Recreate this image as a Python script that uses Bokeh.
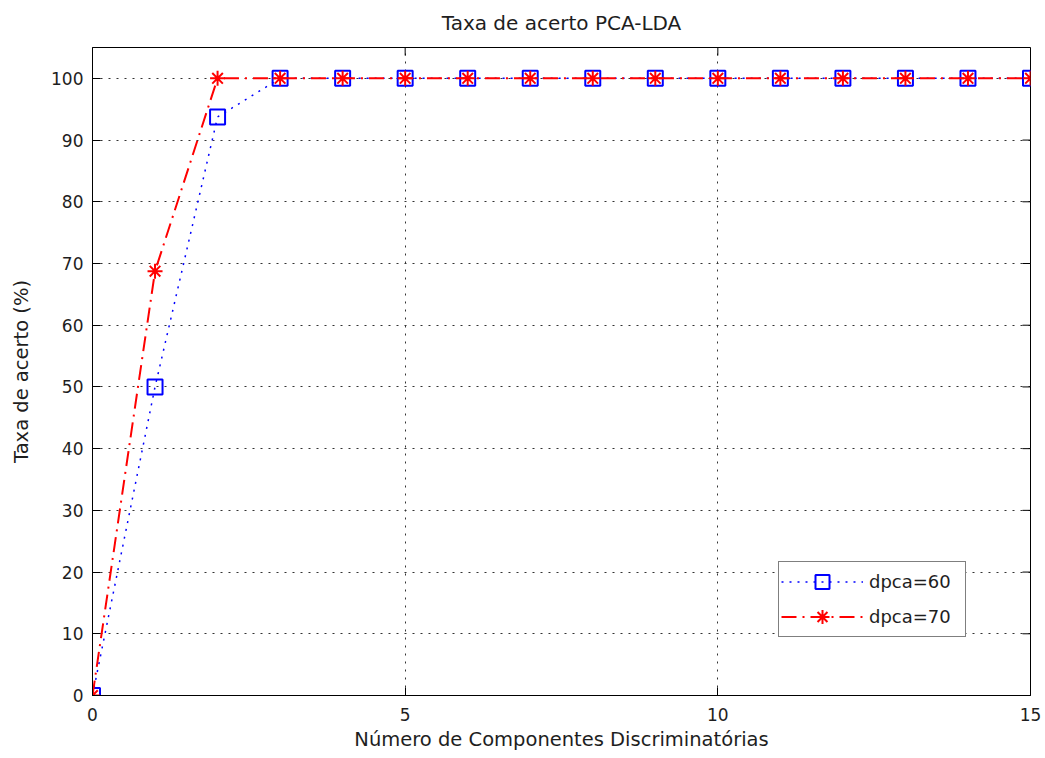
import math
from bokeh.plotting import figure
from bokeh.models import FixedTicker, Range1d, Legend, LegendItem
from bokeh.embed import file_html
from bokeh.resources import INLINE

# ---- data ----
n_comp = [0, 1, 2, 3, 4, 5, 6, 7, 8, 9, 10, 11, 12, 13, 14, 15]
dpca60 = [0, 50, 93.75, 100, 100, 100, 100, 100, 100, 100, 100, 100, 100, 100, 100, 100]
dpca70 = [0, 68.75, 100, 100, 100, 100, 100, 100, 100, 100, 100, 100, 100, 100, 100, 100]
x_ticks = [0, 5, 10, 15]
y_ticks = [0, 10, 20, 30, 40, 50, 60, 70, 80, 90, 100]
labels = ["dpca=60", "dpca=70"]
X_MAX = 15
Y_MAX = 105

FONT = "DejaVu Sans"
TXT = "#1e1e1e"

p = figure(width=1045, height=758, output_backend="svg", toolbar_location=None,
           x_range=Range1d(0, X_MAX), y_range=Range1d(0, Y_MAX),
           title="Taxa de acerto PCA-LDA",
           min_border_left=92, min_border_right=15, min_border_top=46, min_border_bottom=63)

p.background_fill_color = "white"
p.border_fill_color = "white"
p.outline_line_color = "black"
p.outline_line_width = 1

p.title.align = "center"
p.title.vertical_align = "top"
p.title.text_font = FONT
p.title.text_font_size = "20px"
p.title.text_font_style = "normal"
p.title.text_color = TXT
p.title.standoff = 21

# main axes
for ax in (p.xaxis[0], p.yaxis[0]):
    ax.major_label_text_font = FONT
    ax.major_label_text_font_size = "17px"
    ax.major_label_text_color = TXT
    ax.axis_label_text_font = FONT
    ax.axis_label_text_font_size = "19.5px"
    ax.axis_label_text_font_style = "normal"
    ax.axis_label_text_color = TXT
    ax.major_tick_in = 8
    ax.major_tick_out = 0
    ax.minor_tick_line_color = None
    ax.axis_line_color = "black"
    ax.major_tick_line_color = "black"

p.xaxis[0].ticker = FixedTicker(ticks=x_ticks)
p.yaxis[0].ticker = FixedTicker(ticks=y_ticks)
p.xaxis[0].axis_label = "Número de Componentes Discriminatórias"
p.yaxis[0].axis_label = "Taxa de acerto (%)"
p.xaxis[0].major_label_standoff = 12
p.xaxis[0].axis_label_standoff = 4
p.yaxis[0].major_label_standoff = 9
p.yaxis[0].axis_label_standoff = 15

# inward ticks on top and right edges of the box
p.ray(x=x_ticks, y=[Y_MAX] * len(x_ticks), length=8, length_units="screen",
      angle=-math.pi / 2, line_color="black", line_width=1)
p.ray(x=[X_MAX] * len(y_ticks), y=y_ticks, length=8, length_units="screen",
      angle=math.pi, line_color="black", line_width=1)

# grid
for g in (p.xgrid[0], p.ygrid[0]):
    g.grid_line_color = "#333333"
    g.grid_line_dash = "2 6"
    g.grid_line_width = 1
p.xgrid[0].ticker = FixedTicker(ticks=x_ticks)
p.ygrid[0].ticker = FixedTicker(ticks=y_ticks)

# series
l60 = p.line(n_comp, dpca60, line_color="#0000ff", line_width=1.5, line_dash="2 6")
m60 = p.scatter(n_comp, dpca60, marker="square", size=15, fill_color=None,
                line_color="#0000ff", line_width=2)
l70 = p.line(n_comp, dpca70, line_color="#ff0000", line_width=2, line_dash="15 6 2 6")
m70 = p.scatter(n_comp, dpca70, marker="asterisk", size=15,
                line_color="#ff0000", line_width=2)

legend = Legend(items=[LegendItem(label=labels[0], renderers=[l60, m60]),
                       LegendItem(label=labels[1], renderers=[l70, m70])],
                location=(686, 58))
legend.label_text_font = FONT
legend.label_text_font_size = "18px"
legend.label_text_color = TXT
legend.glyph_width = 82
legend.glyph_height = 35
legend.label_height = 20
legend.label_width = 94
legend.label_standoff = 6
legend.spacing = 0
legend.padding = 2
legend.margin = 0
legend.border_line_color = "black"
legend.border_line_width = 1
legend.background_fill_color = "white"
legend.background_fill_alpha = 1
p.add_layout(legend, "center")

open("out.html", "w").write(file_html(p, INLINE))
